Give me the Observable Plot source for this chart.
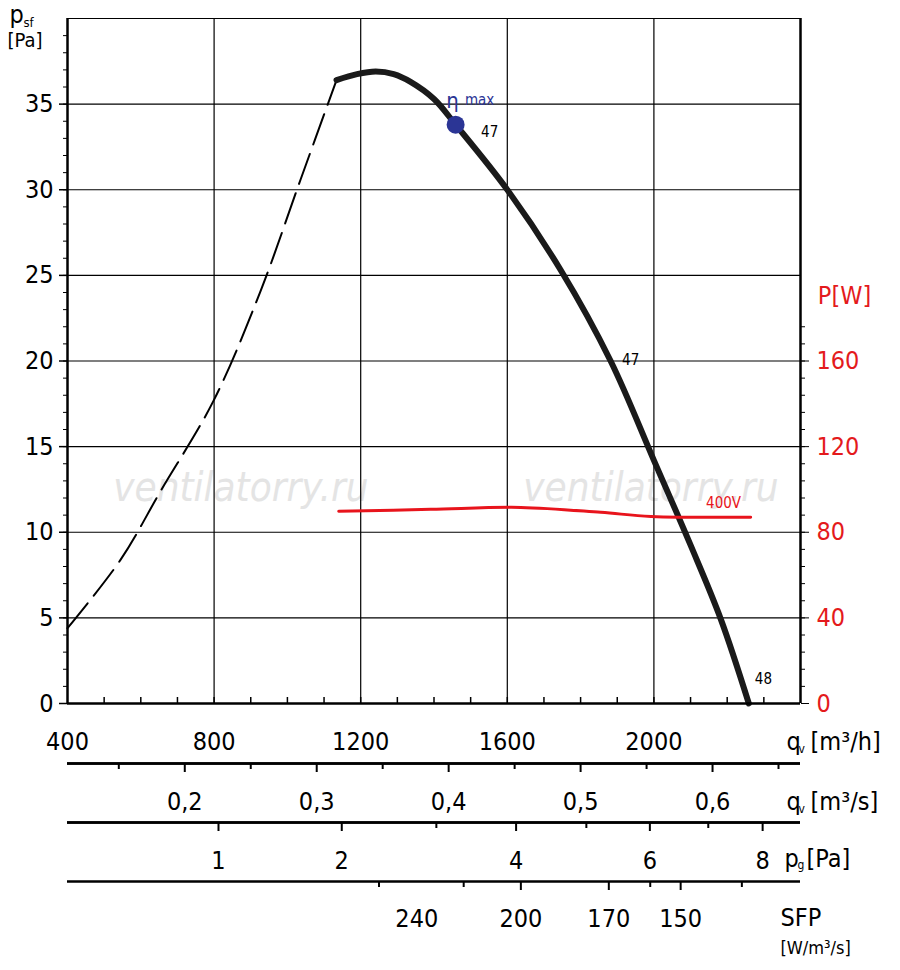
<!DOCTYPE html><html><head><meta charset="utf-8">
<script src="https://cdn.jsdelivr.net/npm/d3@7"></script>
<script src="https://cdn.jsdelivr.net/npm/@observablehq/plot@0.6"></script>
<style>body{margin:0;background:#fff}svg{font-family:"DejaVu Sans Condensed","DejaVu Sans",sans-serif}</style>
</head><body><div id="c"></div><script>
const curveQ=[1134,1190,1241,1290,1336,1400,1459,1600,1746,1882,2000,2101,2183,2259];
const curveP=[36.4,36.75,36.9,36.75,36.3,35.3,33.8,30,25.3,20,14.2,9.2,4.9,0];
const dashQ=[400,545,654,799,927,1036,1134];
const dashP=[4.4,8.4,12.4,17.7,24.1,30.6,36.4];
const powQ=[1140,1391,1637,1855,1992,2264];
const powW=[89.8,90.7,91.6,89.3,87.4,87];
const qhTicks=[400,800,1200,1600,2000];
const qsTicks=[0.2,0.3,0.4,0.5,0.6];
const qsMinor=[0.15,0.25,0.35,0.45,0.55,0.65];
const pgTicks=[1,2,4,6,8];
const pgMinor=[3,5,7];
const sfpTicks=[240,200,170,150];
const sfpQ=[1353,1637,1877,2073];
const sfpMinor=[1250,1481,1990,2240];
const etaQ=1459, etaP=33.8;
const pgK=812;
const W=8;
const cur=curveQ.map((q,i)=>({q,p:curveP[i]}));
const dsh=dashQ.map((q,i)=>({q,p:dashP[i]}));
const pow=powQ.map((q,i)=>({q,p:powW[i]/W}));
const fs=25;
const axis=(vals,toQ,labels,dy,size)=>[
  Plot.ruleY([0],{dy,stroke:"#000",strokeWidth:2.5,clip:false}),
  Plot.ruleX(vals.map(toQ),{x:d=>d,y1:0,y2:0,insetBottom:-(size||9),dy,strokeWidth:2}),
  labels?Plot.text(vals.map((v,i)=>({q:toQ(v),t:labels[i]})),{x:"q",y:0,text:"t",dy:dy+38,fontSize:fs}):null
];
const plot=Plot.plot({
  width:900,height:970,marginTop:18,marginLeft:67,marginRight:100,marginBottom:267,
  x:{domain:[400,2400],axis:null},
  y:{domain:[0,40],axis:null},
  style:{fontFamily:"DejaVu Sans Condensed, DejaVu Sans",fontSize:"24px"},
  marks:[
    Plot.text(["ventilatorry.ru","ventilatorry.ru"],{x:[873,1992],y:12.6,text:d=>d,fontSize:40,fill:"#e4e4e4",fontStyle:"italic"}),
    Plot.gridX([800,1200,1600,2000],{stroke:"#000",strokeOpacity:1,strokeWidth:1.2}),
    Plot.gridY([5,10,15,20,25,30,35],{stroke:"#000",strokeOpacity:1,strokeWidth:1.2}),
    Plot.frame({stroke:"#000",strokeWidth:1.2,anchor:"top"}),
    Plot.ruleX([400],{stroke:"#000",strokeWidth:2.5}),
    Plot.ruleX([2400],{stroke:"#000",strokeWidth:2.5}),
    Plot.axisY({anchor:"left",ticks:d3.range(0,40,5),tickSize:8,tickPadding:6,fontSize:fs,label:null,strokeWidth:1.5}),
    Plot.axisY({anchor:"left",ticks:d3.range(0,40,1),tickSize:4,tickFormat:()=>"",label:null}),
    Plot.axisY({anchor:"right",ticks:[0,5,10,15,20],tickFormat:d=>d*W,tickSize:8,tickPadding:8,fontSize:fs,label:null,color:"#e41a1c",stroke:"#000"}),
    Plot.axisY({anchor:"right",ticks:d3.range(0,23,1),tickFormat:()=>"",tickSize:4,label:null}),
    Plot.text(["P[W]"],{x:2400,y:23.8,dx:44,text:d=>d,fill:"#e41a1c",fontSize:fs,clip:false}),
    Plot.text(["p"],{x:400,y:40,dx:-58,dy:-4,text:d=>d,fontSize:fs,textAnchor:"start"}),
    Plot.text(["sf"],{x:400,y:40,dx:-44,dy:4,text:d=>d,fontSize:13,textAnchor:"start"}),
    Plot.text(["[Pa]"],{x:400,y:40,dx:-60,dy:22,text:d=>d,fontSize:20,textAnchor:"start"}),
    Plot.line(dsh,{x:"q",y:"p",stroke:"#000",strokeWidth:2,strokeDasharray:"32,10",curve:"catmull-rom"}),
    Plot.line(cur,{x:"q",y:"p",stroke:"#1a1a1a",strokeWidth:6,curve:"catmull-rom"}),
    Plot.line(pow,{x:"q",y:"p",stroke:"#e8141c",strokeWidth:3,curve:"catmull-rom"}),
    Plot.text(["400V"],{x:2190,y:11.5,dy:-3,text:d=>d,fill:"#e8141c",fontSize:15}),
    Plot.dot([0],{x:etaQ,y:etaP,r:9,fill:"#2b3595"}),
    Plot.text(["η"],{x:etaQ,y:etaP,dy:-24,dx:-3,text:d=>d,fill:"#2b3595",fontSize:22}),
    Plot.text(["max"],{x:etaQ,y:etaP,dy:-24,dx:24,text:d=>d,fill:"#2b3595",fontSize:15}),
    Plot.text(["47"],{x:etaQ,y:etaP,dx:34,dy:8,text:d=>d,fontSize:15}),
    Plot.text(["47"],{x:1882,y:20,dx:20,dy:-1,text:d=>d,fontSize:15}),
    Plot.text(["48"],{x:2259,y:0,dx:6,dy:-24,text:d=>d,fontSize:15,textAnchor:"start"}),
    Plot.ruleY([0],{stroke:"#000",strokeWidth:2.5}),
    Plot.ruleX(d3.range(500,2400,100),{x:d=>d,y1:0,y2:0.35,strokeWidth:1.5}),
    Plot.text(qhTicks,{x:d=>d,y:0,dy:38,text:d=>String(d),fontSize:fs}),
    Plot.text(["q"],{x:2400,y:0,dx:-14,dy:38,text:d=>d,fontSize:fs,textAnchor:"start"}),
    Plot.text(["v"],{x:2400,y:0,dx:-2,dy:46,text:d=>d,fontSize:12,textAnchor:"start"}),
    Plot.text(["[m³/h]"],{x:2400,y:0,dx:10,dy:38,text:d=>d,fontSize:fs,textAnchor:"start"}),
    ...axis(qsTicks,v=>v*3600,qsTicks.map(v=>String(v).replace(".",",")),60),
    ...axis(qsMinor,v=>v*3600,null,60,6),
    Plot.text(["q"],{x:2400,y:0,dx:-14,dy:98,text:d=>d,fontSize:fs,textAnchor:"start"}),
    Plot.text(["v"],{x:2400,y:0,dx:-2,dy:106,text:d=>d,fontSize:12,textAnchor:"start"}),
    Plot.text(["[m³/s]"],{x:2400,y:0,dx:10,dy:98,text:d=>d,fontSize:fs,textAnchor:"start"}),
    ...axis(pgTicks,v=>pgK*Math.sqrt(v),pgTicks.map(String),119),
    ...axis(pgMinor,v=>pgK*Math.sqrt(v),null,119,6),
    Plot.text(["p"],{x:2400,y:0,dx:-16,dy:155,text:d=>d,fontSize:fs,textAnchor:"start"}),
    Plot.text(["g"],{x:2400,y:0,dx:-3,dy:162,text:d=>d,fontSize:12,textAnchor:"start"}),
    Plot.text(["[Pa]"],{x:2400,y:0,dx:6,dy:155,text:d=>d,fontSize:fs,textAnchor:"start"}),
    Plot.ruleY([0],{dy:178,stroke:"#000",strokeWidth:2.5,x1:400,x2:2400}),
    Plot.ruleX(sfpQ.slice(1),{x:d=>d,y1:0,y2:0,insetBottom:-9,dy:178,strokeWidth:2}),
    Plot.ruleX(sfpMinor,{x:d=>d,y1:0,y2:0,insetBottom:-6,dy:178,strokeWidth:2}),
    Plot.text(sfpTicks,{x:(d,i)=>sfpQ[i],y:0,dy:215,text:d=>String(d),fontSize:fs}),
    Plot.text(["SFP"],{x:2400,y:0,dx:-20,dy:214,text:d=>d,fontSize:fs,textAnchor:"start"}),
    Plot.text(["[W/m³/s]"],{x:2400,y:0,dx:-20,dy:245,text:d=>d,fontSize:18,textAnchor:"start"})
  ]
});
document.getElementById("c").appendChild(plot);
</script></body></html>
